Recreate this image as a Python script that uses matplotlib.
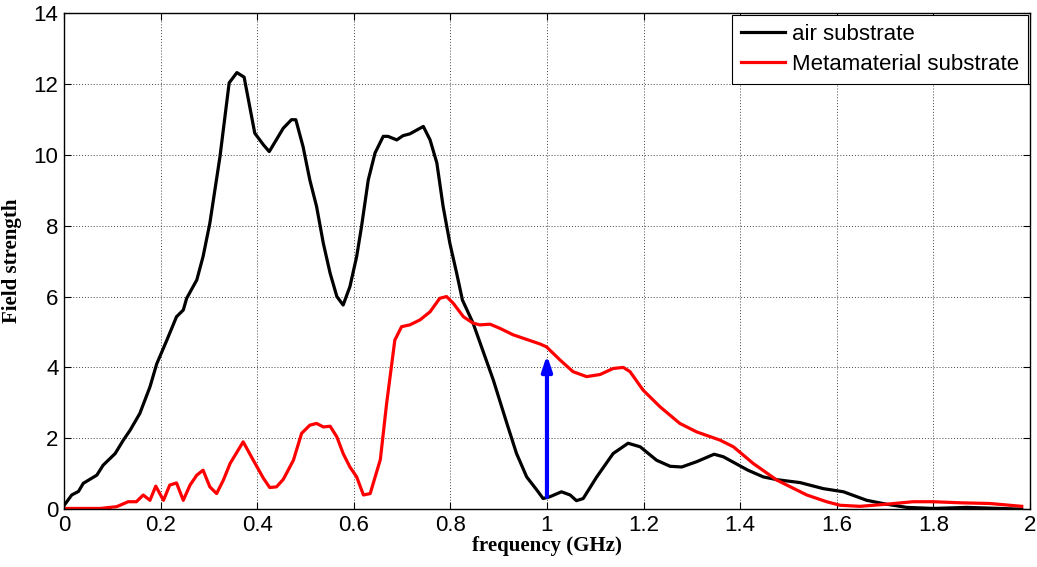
import matplotlib
matplotlib.use("Agg")
import matplotlib.pyplot as plt
import numpy as np

# air substrate response
freq_air = [0.0, 0.016, 0.03, 0.04, 0.068, 0.081, 0.106, 0.123, 0.137, 0.157, 0.178,
            0.192, 0.213, 0.233, 0.247, 0.254, 0.275, 0.288, 0.302, 0.323, 0.342, 0.358,
            0.373, 0.395, 0.413, 0.425, 0.454, 0.471, 0.480, 0.495, 0.509, 0.523, 0.537,
            0.551, 0.565, 0.578, 0.592, 0.606, 0.616, 0.630, 0.644, 0.661, 0.671, 0.689,
            0.702, 0.716, 0.744, 0.758, 0.772, 0.785, 0.799, 0.813, 0.825, 0.847, 0.889,
            0.917, 0.937, 0.958, 0.979, 0.992, 1.006, 1.030, 1.048, 1.061, 1.075, 1.103,
            1.137, 1.168, 1.193, 1.227, 1.255, 1.279, 1.310, 1.346, 1.365, 1.416, 1.448,
            1.477, 1.524, 1.572, 1.614, 1.662, 1.703, 1.745, 1.800, 1.869, 1.938, 1.983]
field_air = [0.1, 0.4, 0.5, 0.73, 0.96, 1.24, 1.57, 1.95, 2.23, 2.70, 3.45,
             4.1, 4.77, 5.43, 5.62, 5.95, 6.47, 7.13, 8.07, 9.95, 12.03, 12.32,
             12.19, 10.61, 10.28, 10.09, 10.75, 10.99, 10.99, 10.23, 9.29, 8.54, 7.5,
             6.66, 6.0, 5.76, 6.28, 7.13, 7.97, 9.29, 10.05, 10.52, 10.52, 10.42,
             10.54, 10.59, 10.80, 10.42, 9.77, 8.54, 7.50, 6.66, 5.9, 5.25, 3.64,
             2.42, 1.57, 0.91, 0.54, 0.30, 0.35, 0.49, 0.40, 0.24, 0.30, 0.91,
             1.57, 1.86, 1.76, 1.38, 1.21, 1.19, 1.34, 1.55, 1.48, 1.10, 0.91,
             0.83, 0.75, 0.58, 0.49, 0.25, 0.14, 0.05, 0.02, 0.05, 0.02, 0.0]

# metamaterial substrate response
freq_meta = [0.0, 0.075, 0.109, 0.133, 0.15, 0.164, 0.178, 0.19, 0.206, 0.219, 0.233,
             0.247, 0.261, 0.275, 0.288, 0.302, 0.316, 0.330, 0.344, 0.371, 0.392,
             0.413, 0.426, 0.440, 0.454, 0.475, 0.492, 0.509, 0.523, 0.537, 0.551,
             0.565, 0.578, 0.592, 0.606, 0.620, 0.634, 0.655, 0.668, 0.685, 0.699,
             0.716, 0.737, 0.758, 0.778, 0.792, 0.806, 0.827, 0.847, 0.861, 0.882,
             0.903, 0.930, 0.958, 0.986, 0.999, 1.027, 1.054, 1.082, 1.110, 1.137,
             1.158, 1.172, 1.199, 1.234, 1.275, 1.310, 1.358, 1.386, 1.427, 1.476,
             1.538, 1.579, 1.607, 1.648, 1.703, 1.758, 1.800, 1.855, 1.917, 1.983]
field_meta = [0.02, 0.02, 0.07, 0.21, 0.21, 0.40, 0.25, 0.65, 0.25, 0.68, 0.74,
              0.25, 0.68, 0.96, 1.10, 0.63, 0.44, 0.82, 1.29, 1.90, 1.38,
              0.87, 0.61, 0.63, 0.84, 1.38, 2.14, 2.37, 2.42, 2.32, 2.34,
              2.04, 1.57, 1.19, 0.91, 0.40, 0.44, 1.4, 2.98, 4.77, 5.15,
              5.2, 5.34, 5.57, 5.95, 6.0, 5.81, 5.43, 5.25, 5.2, 5.22,
              5.10, 4.92, 4.79, 4.66, 4.58, 4.21, 3.88, 3.74, 3.80, 3.97,
              4.0, 3.88, 3.36, 2.89, 2.42, 2.18, 1.95, 1.76, 1.29, 0.82,
              0.40, 0.21, 0.11, 0.08, 0.14, 0.21, 0.21, 0.18, 0.16, 0.08]

# arrow marking the gain at 1 GHz
arrow_freq = 1.0
arrow_from = 0.35
arrow_to = 4.35

fig = plt.figure(figsize=(10.37, 5.67), dpi=100)
ax = fig.add_axes([0.0617, 0.102, 0.9315, 0.875])

ax.plot(freq_air, field_air, color="black", lw=2.3, label="air substrate")
ax.plot(freq_meta, field_meta, color="red", lw=2.3, label="Metamaterial substrate")
ax.annotate("", xy=(arrow_freq, arrow_to), xytext=(arrow_freq, arrow_from),
            arrowprops=dict(arrowstyle="-|>,head_width=0.3,head_length=0.9",
                            color="blue", lw=3.0, shrinkA=0, shrinkB=0))

ax.set_xlim(0, 2)
ax.set_ylim(0, 14)
ax.set_xticks(np.arange(0, 2.01, 0.2))
ax.set_xticklabels(["0", "0.2", "0.4", "0.6", "0.8", "1", "1.2", "1.4", "1.6", "1.8", "2"])
ax.set_yticks(np.arange(0, 15, 2))
ax.tick_params(direction="in", top=True, right=True, length=5, labelsize=16, pad=4)
for lab in ax.get_xticklabels() + ax.get_yticklabels():
    lab.set_family("Liberation Sans")
ax.grid(True, color="#444444", linestyle=(0, (1, 2)), linewidth=0.7)
for s in ax.spines.values():
    s.set_linewidth(1.0)

ax.set_xlabel("frequency (GHz)", family="Liberation Serif", fontweight="bold",
              fontsize=15, labelpad=0)
ax.set_ylabel("Field strength", family="Liberation Serif", fontweight="bold",
              fontsize=15, labelpad=8)

leg = ax.legend(loc="upper right", prop={"family": "Liberation Sans", "size": 16},
                fancybox=False, edgecolor="black", framealpha=1,
                borderaxespad=0.1, handlelength=2.0, handletextpad=0.3,
                borderpad=0.4, labelspacing=0.4)
leg.get_frame().set_linewidth(0.8)

fig.savefig("out.png", dpi=100)
